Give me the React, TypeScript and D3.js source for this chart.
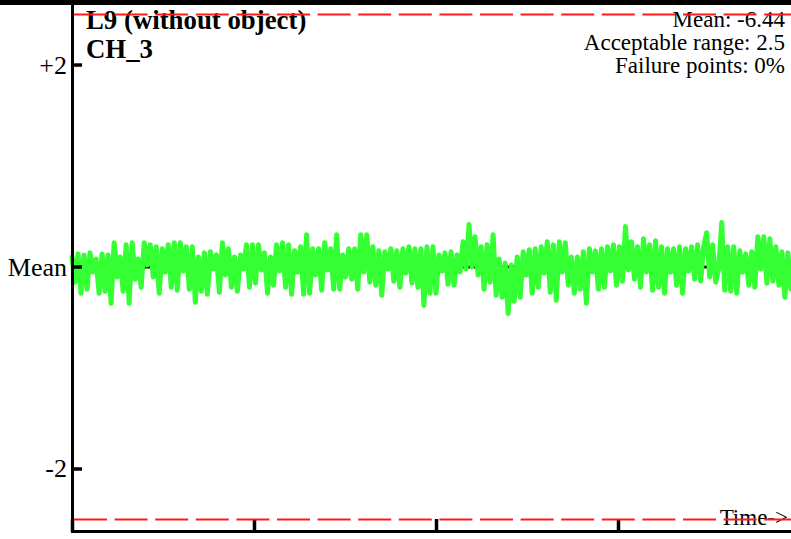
import React from 'react';
import * as d3 from 'd3';

const W = 791;
const H = 539;

const titleText = 'L9 (without object)';
const channelText = 'CH_3';
const meanValue = -6.44;
const acceptableRange = 2.5;
const failurePointsPct = 0;

const yTickValues = [2, 0, -2];
const yTickLabels = ['+2', 'Mean', '-2'];
const xTickValues = [0, 1, 2, 3, 4];
const timeEnd = 3.95;

// deviation from the mean (units of the y axis)
const signal: number[] = [
  0.10, -0.15, 0.13, -0.26, 0.12, -0.22, 0.14, -0.05, 0.08, -0.26, 0.13, -0.24, 0.12, -0.36, 0.24, -0.10, 0.10, -0.24, 0.22, -0.36,
  0.24, -0.12, 0.08, -0.20, 0.24, 0.02, 0.22, -0.10, 0.20, -0.26, 0.18, -0.05, 0.22, -0.20, 0.24, -0.23, 0.24, -0.04, 0.20, -0.22,
  0.20, -0.35, 0.10, -0.24, 0.14, -0.27, 0.15, -0.02, 0.12, -0.25, 0.24, -0.08, 0.18, -0.20, 0.10, -0.24, 0.12, -0.02, 0.22, -0.20,
  0.22, -0.16, 0.22, -0.03, 0.14, -0.26, 0.10, -0.18, 0.22, -0.04, 0.24, -0.20, 0.22, -0.27, 0.16, -0.05, 0.20, -0.27, 0.32, -0.26,
  0.18, -0.08, 0.18, -0.23, 0.24, -0.03, 0.18, -0.22, 0.32, -0.22, 0.12, -0.10, 0.18, -0.12, 0.18, -0.22, 0.32, -0.05, 0.32, -0.15,
  0.20, -0.18, 0.16, -0.28, 0.15, -0.02, 0.18, -0.14, 0.16, -0.20, 0.18, -0.06, 0.20, -0.16, 0.18, -0.20, 0.18, -0.38, 0.20, -0.26,
  0.20, -0.26, 0.12, -0.04, 0.14, -0.17, 0.15, -0.18, 0.12, -0.05, 0.25, -0.02, 0.42, 0.00, 0.30, -0.08, 0.20, -0.22, 0.22, -0.15,
  0.32, -0.28, 0.08, -0.30, 0.04, -0.46, 0.02, -0.34, 0.10, -0.30, 0.15, -0.08, 0.17, -0.26, 0.18, -0.20, 0.20, -0.06, 0.25, -0.25,
  0.22, -0.33, 0.25, -0.05, 0.24, -0.18, 0.10, -0.26, 0.10, -0.22, 0.15, -0.36, 0.18, -0.05, 0.16, -0.22, 0.18, -0.20, 0.20, -0.04,
  0.22, -0.18, 0.20, -0.14, 0.40, -0.03, 0.25, -0.12, 0.20, -0.20, 0.28, -0.05, 0.22, -0.23, 0.26, -0.20, 0.20, -0.26, 0.18, -0.05,
  0.18, -0.18, 0.20, -0.26, 0.18, -0.04, 0.20, -0.12, 0.22, -0.14, 0.20, 0.34, -0.10, 0.22, -0.15, -0.02, 0.44, -0.23, 0.20, -0.24,
  0.20, -0.26, 0.16, -0.05, 0.13, -0.18, 0.15, -0.20, 0.30, -0.02, 0.30, -0.16, 0.28, -0.14, 0.20, -0.18, 0.15, -0.30, 0.14, -0.22,
];

const FONT = "'Liberation Serif', 'Times New Roman', serif";

export default function App() {
  const x = d3.scaleLinear().domain([0, 4]).range([72, 800]);
  const y = d3.scaleLinear().domain([-2.624, 2.644]).range([532, 0]);
  const t = d3.scaleLinear().domain([0, signal.length - 1]).range([0, timeEnd]);

  const line = d3
    .line<number>()
    .x((_, i) => x(t(i)))
    .y((d) => y(d));

  const axisX = x(0);
  const axisY = 531.5;

  return (
    <svg
      width={W}
      height={H}
      style={{ position: 'absolute', left: 0, top: 0, background: '#fff', fontFamily: FONT }}
    >
      <rect x={0} y={0} width={W} height={H} fill="#fff" />
      {/* mean line */}
      <line x1={axisX} x2={W} y1={y(0)} y2={y(0)} stroke="#000" strokeWidth={3} />
      {/* signal */}
      <path
        d={line(signal) || ''}
        fill="none"
        stroke="#33ff33"
        strokeWidth={5}
        strokeLinejoin="round"
        strokeLinecap="round"
      />
      {/* axes */}
      <line x1={axisX + 0.5} x2={axisX + 0.5} y1={0} y2={533} stroke="#000" strokeWidth={3} />
      <line x1={axisX} x2={W} y1={axisY} y2={axisY} stroke="#000" strokeWidth={3} />
      {xTickValues.map((v) => (
        <line key={'xt' + v} x1={x(v) + 0.5} x2={x(v) + 0.5} y1={519} y2={532} stroke="#000" strokeWidth={3.5} />
      ))}
      {yTickValues.map((v, i) => (
        <g key={'yt' + v}>
          <line x1={axisX} x2={axisX + 10} y1={y(v)} y2={y(v)} stroke="#000" strokeWidth={3.5} />
          <text x={67} y={y(v) + 8.5} textAnchor="end" fontSize={26} fill="#000">
            {yTickLabels[i]}
          </text>
        </g>
      ))}
      {/* titles */}
      <text x={86} y={29} fontSize={26.8} fontWeight="bold" fill="#000">
        {titleText}
      </text>
      <text x={86} y={58} fontSize={26.8} fontWeight="bold" fill="#000">
        {channelText}
      </text>
      <text x={785} y={27} fontSize={23} textAnchor="end" fill="#000">
        {`Mean: ${meanValue.toFixed(2)}`}
      </text>
      <text x={785} y={49.5} fontSize={23} textAnchor="end" fill="#000">
        {`Acceptable range: ${acceptableRange}`}
      </text>
      <text x={785} y={72.5} fontSize={23} textAnchor="end" fill="#000">
        {`Failure points: ${failurePointsPct}%`}
      </text>
      <text x={788} y={525} fontSize={23} textAnchor="end" fill="#000">
        {'Time->'}
      </text>
      {/* acceptable range limits */}
      {[acceptableRange, -acceptableRange].map((v) => (
        <line
          key={'lim' + v}
          x1={74}
          x2={W}
          y1={y(v)}
          y2={y(v)}
          stroke="#ff1a1a"
          strokeWidth={2}
          strokeDasharray="33 7.6"
        />
      ))}
      {/* top border */}
      <rect x={0} y={0} width={W} height={5} fill="#000" />
    </svg>
  );
}
